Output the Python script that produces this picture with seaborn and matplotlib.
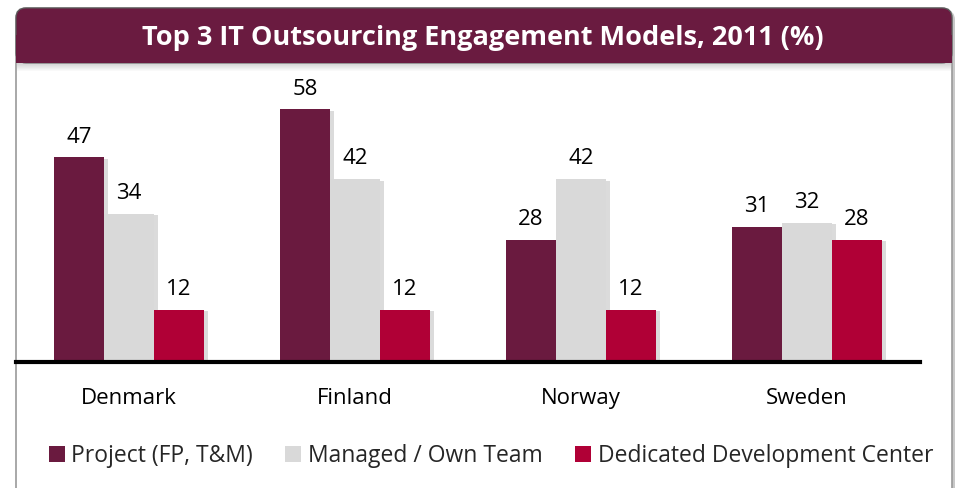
import pandas as pd
import matplotlib.pyplot as plt
import matplotlib.transforms as mtransforms
from matplotlib.patches import FancyBboxPatch, Rectangle
from matplotlib import patheffects
import seaborn as sns

countries = ['Denmark', 'Finland', 'Norway', 'Sweden']
models = ['Project (FP, T&M)', 'Managed / Own Team', 'Dedicated Development Center']
project = [47, 58, 28, 31]
managed = [34, 42, 42, 32]
dedicated = [12, 12, 12, 28]
colors = ['#6A1A3F', '#D9D9D9', '#B00036']
title = 'Top 3 IT Outsourcing Engagement Models, 2011 (%)'

df = pd.DataFrame({
    'Country': countries * 3,
    'Model': [models[0]] * 4 + [models[1]] * 4 + [models[2]] * 4,
    'Value': project + managed + dedicated,
})

sns.set_theme(style='white')
plt.rcParams['font.family'] = ['Open Sans', 'DejaVu Sans']

W, H = 959, 488
fig = plt.figure(figsize=(W / 100, H / 100), dpi=100)
fig.patch.set_facecolor('white')

# pixel coords (y from top) -> display
px = mtransforms.Affine2D().scale(0.01, -0.01).translate(0, H / 100) + fig.dpi_scale_trans

# outer box with shadow
fig.patches.append(FancyBboxPatch((18, 10), 937, 520, boxstyle='round,pad=0,rounding_size=10',
                                  transform=px, facecolor='#C8C8C8', edgecolor='none', zorder=0))
fig.patches.append(FancyBboxPatch((16, 8), 936, 520, boxstyle='round,pad=0,rounding_size=10',
                                  transform=px, facecolor='white', edgecolor='#9A9A9A', lw=1.2, zorder=0))
# title bar
fig.patches.append(FancyBboxPatch((16, 8), 936, 55, boxstyle='round,pad=0,rounding_size=10',
                                  transform=px, facecolor='#6A1B40', edgecolor='#5A5A5A', lw=0.8, zorder=1))
fig.patches.append(Rectangle((16, 35), 936, 28, transform=px, facecolor='#6A1B40',
                             edgecolor='none', zorder=1))
for i in range(8):
    fig.patches.append(Rectangle((17, 63 + i), 934, 1, transform=px, facecolor='#808080',
                                 alpha=0.35 * (1 - i / 8), edgecolor='none', zorder=1))
fig.text(483 / W, 1 - 38 / H, title, color='white', fontsize=19.5, fontweight='bold',
         ha='center', va='center', zorder=2)

ax = fig.add_axes([16 / W, 1 - 362 / H, (920 - 16) / W, (362 - 79) / H])
ax.set_zorder(5)
ax.set_facecolor('none')
sns.barplot(data=df, x='Country', y='Value', hue='Model', palette=colors,
            width=0.664, gap=0, saturation=1, ax=ax, legend=False)

shadow = [patheffects.SimplePatchShadow(offset=(3, -1), shadow_rgbFace='#888888', alpha=0.3),
          patheffects.Normal()]
for bar in ax.patches:
    bar.set_path_effects(shadow)
    bar.set_edgecolor('none')

for cont in ax.containers:
    ax.bar_label(cont, padding=7, fontsize=16, color='black')

ax.set_xlim(-0.5, 3.5)
ax.set_ylim(0, 65)
ax.set_xlabel('')
ax.set_ylabel('')
ax.set_yticks([])
for s in ['left', 'right', 'top']:
    ax.spines[s].set_visible(False)
ax.spines['bottom'].set_linewidth(3)
ax.spines['bottom'].set_color('black')
ax.tick_params(axis='x', length=0, pad=19, labelsize=16, labelcolor='black')

handles = [Rectangle((0, 0), 1, 1, facecolor=c, edgecolor='none') for c in colors]
fig.legend(handles, models, loc='center', bbox_to_anchor=(491 / W, 1 - 456 / H), ncol=3,
           frameon=False, fontsize=16.5, handlelength=0.7, handleheight=0.7,
           handletextpad=0.3, columnspacing=1.4, borderpad=0)

fig.savefig('out.png', dpi=100)
